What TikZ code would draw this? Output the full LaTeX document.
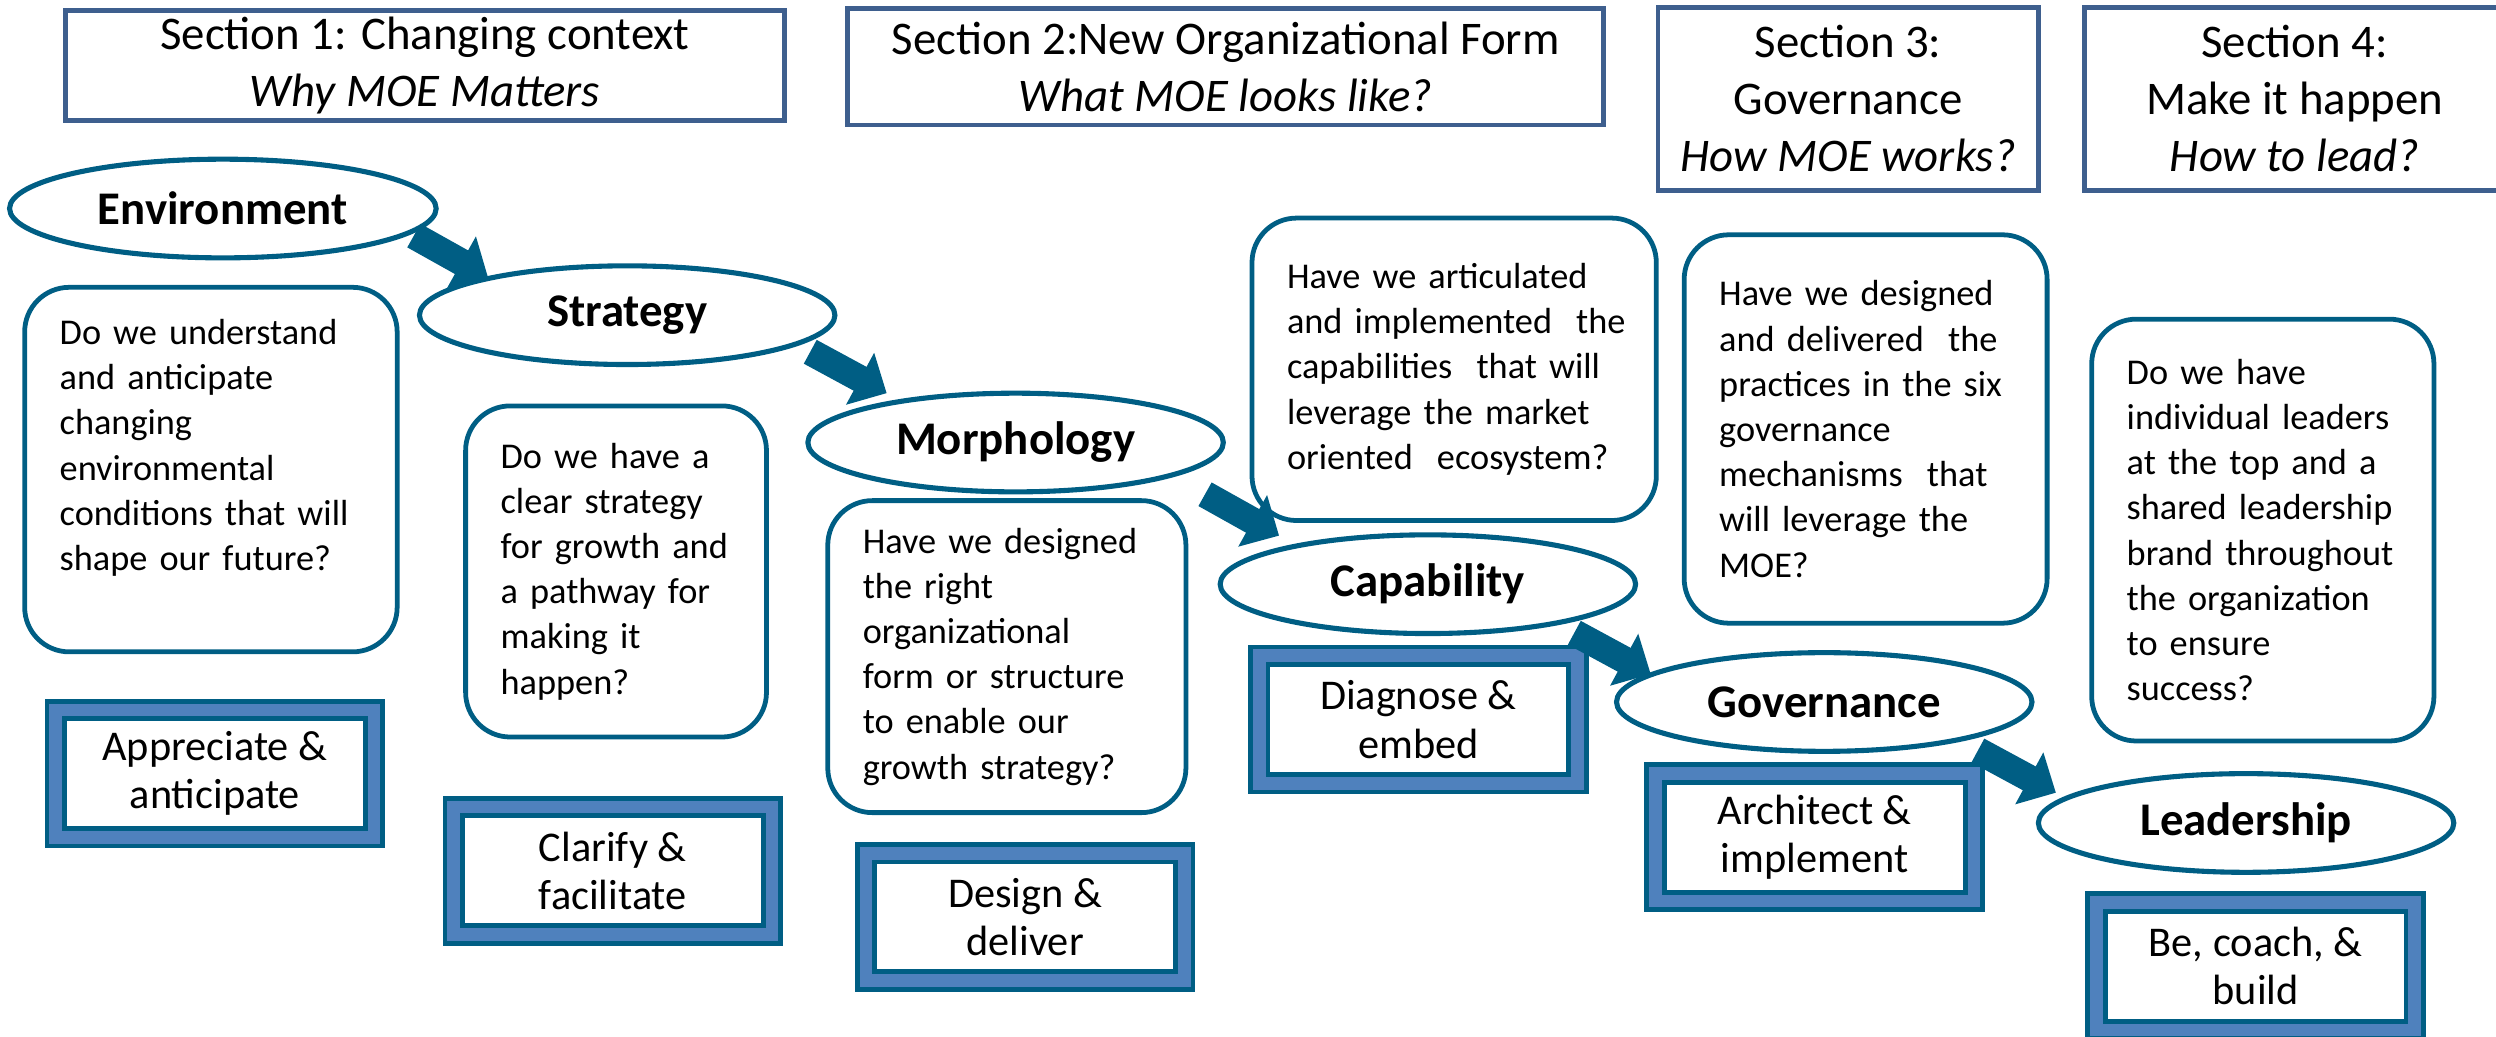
\documentclass[tikz,border=0pt]{standalone}
\usepackage{fontspec}
\setmainfont{Carlito}
\usetikzlibrary{shapes.geometric}
\usetikzlibrary{arrows.meta, calc}

\definecolor{moeteal}{HTML}{005E84}
\definecolor{moeblue}{HTML}{4F81BD}
\definecolor{moeslate}{HTML}{3E5F8E}

\tikzset{
  section/.style={draw=moeslate, line width=1.5pt, align=center, inner ysep=0pt,
    font=\fontsize{14.7}{18}\selectfont},
  phase/.style={ellipse, draw=moeteal, line width=1.6pt, fill=white, inner sep=0pt,
    minimum width=130.5pt, minimum height=31pt, font=\bfseries\fontsize{14.7}{18}\selectfont},
  question/.style={draw=moeteal, line width=1.5pt, rounded corners=14pt, fill=white,
    align=left, inner xsep=11pt, inner ysep=0pt, font=\fontsize{11.4}{14.2}\selectfont},
  action/.style={draw=moeteal, double=moeblue, double distance=4pt, line width=1.5pt,
    fill=white, align=center, inner sep=0pt, minimum width=100pt, minimum height=40pt,
    font=\fontsize{13.3}{15.2}\selectfont},
  flow/.style={draw=moeteal, line width=8.5pt, -{Triangle[length=9.5pt,width=18pt]}}
}

\begin{document}
\begin{tikzpicture}[x=0.5pt,y=-0.5pt]
    \useasboundingbox (0,0) rectangle (1568,651);

    % Section headers
    \node[section, minimum width=226pt, minimum height=34.5pt] (sec1) at (267,41)
        {Section 1: Changing context\\ \textit{Why MOE Matters}};
    \node[section, minimum width=237.5pt, minimum height=36.5pt] (sec2) at (770,42)
        {Section 2:New Organizational Form\\ \textit{What MOE looks like?}};
    \node[section, minimum width=119.5pt, minimum height=57.5pt] (sec3) at (1161,62)
        {Section 3:\\ Governance\\ \textit{How MOE works?}};
    \node[section, minimum width=132pt, minimum height=57.5pt] (sec4) at (1441.5,62)
        {Section 4:\\ Make it happen\\ \textit{How to lead?}};

    % Question boxes
    \node[question, text width=95pt, minimum height=114.5pt] (q1) at (132.5,295)
        {Do we understand\\ and anticipate\\ changing\\ environmental\\ conditions that will\\ shape our future?\rule[-15.5pt]{0pt}{0pt}};
    \node[question, text width=72.5pt, minimum height=104pt] (q2) at (387,359)
        {Do we have a\\ clear strategy\\ for growth and\\ a pathway for\\ making it\\ happen?};
    \node[question, text width=90.5pt, minimum height=98pt] (q3) at (632.5,412.5)
        {Have we designed\\ the right\\ organizational\\ form or structure\\ to enable our\\ growth strategy?};
    \node[question, text width=105pt, minimum height=95pt] (q4) at (913.5,232)
        {Have we articulated\\ \mbox{and implemented~~the}\\ capabilities~~that will\\ leverage the market\\ oriented~~ecosystem?};
    \node[question, text width=92pt, minimum height=122pt] (q5) at (1172,269.5)
        {Have we designed\\ and delivered~~the\\ practices in the six\\ governance\\ mechanisms~~that\\ will leverage the\\ MOE?};
    \node[question, text width=85.5pt, minimum height=132.5pt] (q6) at (1421.5,333)
        {Do we have\\ individual leaders\\ at the top and a\\ shared leadership\\ brand throughout\\ the organization\\ to ensure\\ success?};

    % Action boxes
    \node[action] (a1) at (135,486) {Appreciate \&\\ anticipate};
    \node[action] (a2) at (385,547) {Clarify \&\\ facilitate};
    \node[action] (a3) at (644,576) {Design \&\\ deliver};
    \node[action] (a4) at (891,452) {Diagnose \&\\ embed};
    \node[action] (a5) at (1140,526) {Architect \&\\ implement};
    \node[action] (a6) at (1417,607) {Be, coach, \&\\ build};

    % Phases
    \node[phase, minimum width=134pt] (env) at (140,131) {Environment};
    \node[phase] (str) at (394,198) {Strategy};
    \node[phase] (mor) at (638,278) {Morphology};
    \node[phase] (cap) at (897,367) {Capability};
    \node[phase] (gov) at (1146,441) {Governance};
    \node[phase] (lea) at (1411,517) {Leadership};

    % Arrows between phases
    \draw[flow] ($(env)+(120,17)$) -- ($(str)+(-87.5,-24)$);
    \draw[flow] ($(str)+(115,23)$) -- ($(mor)+(-81,-31)$);
    \draw[flow] ($(mor)+(119,32.5)$) -- ($(cap)+(-93.5,-30.5)$);
    \draw[flow] ($(cap)+(92,30.5)$) -- ($(gov)+(-109,-17.5)$);
    \draw[flow] ($(gov)+(96.5,30.5)$) -- ($(lea)+(-119.5,-19)$);

\end{tikzpicture}
\end{document}
